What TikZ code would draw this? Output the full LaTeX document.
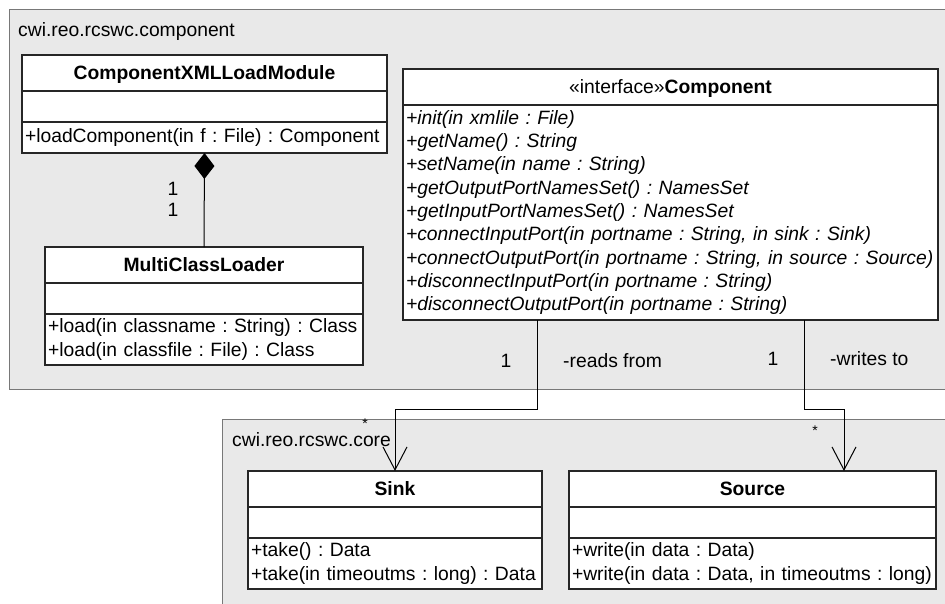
\documentclass[tikz,border=0pt]{standalone}
\usepackage{fontspec}
\setmainfont{Liberation Sans}
\usetikzlibrary{arrows.meta,positioning}

\definecolor{pkgfill}{RGB}{233,233,233}
\definecolor{pkgline}{RGB}{120,120,120}
\newcommand{\umlfont}{\fontsize{19.3}{23.3}\selectfont\frenchspacing}
\hyphenpenalty=10000
\exhyphenpenalty=10000

\tikzset{
  pkg/.style={draw=pkgline,fill=pkgfill,line width=1pt},
  pkglabel/.style={anchor=base west,inner sep=0pt,font=\umlfont},
  box/.style={draw=black!85,fill=white,line width=1.2pt,outer sep=0pt},
  head/.style={box,anchor=north,minimum width=#1,minimum height=36pt,inner sep=0pt,
    text height=13.8pt,text depth=0pt,font=\umlfont\bfseries},
  attrs/.style={box,minimum width=#1,minimum height=31pt,inner sep=0pt},
  ops/.style={box,text width=#1,align=left,inner xsep=3pt,inner ysep=0pt,font=\umlfont},
  lab/.style={anchor=base,inner sep=0pt,font=\umlfont},
  star/.style={anchor=base,inner sep=0pt,font=\fontsize{14}{16}\selectfont},
  assoc/.style={line width=1pt,-{Straight Barb[length=23pt,width=24pt]}},
  compos/.style={line width=1pt,-{Diamond[length=26pt,width=20pt]}},
}

\begin{document}
\begin{tikzpicture}[x=1pt,y=-1pt]
  \useasboundingbox (0,0) rectangle (945,603);
  \clip (0,0) rectangle (945,603);
  \fill[white] (0,0) rectangle (945,603);

  % packages
  \draw[pkg] (9,9) rectangle (960,389);
  \node[pkglabel] (pkgcomp) at (18,36) {cwi.reo.rcswc.component};
  \draw[pkg] (222,419) rectangle (960,620);
  \node[pkglabel] (pkgcore) at (232,446) {cwi.reo.rcswc.core};

  % ComponentXMLLoadModule
  \node[head=365pt] (xmlhead) at (204.5,55) {ComponentXMLLoadModule};
  \node[attrs=365pt,below=0pt of xmlhead] (xmlattr) {};
  \node[ops=359pt,minimum height=31pt,below=0pt of xmlattr] (xmlops)
    {+loadComponent(in f : File) : Component};

  % MultiClassLoader
  \node[head=318pt] (mclhead) at (204,247) {MultiClassLoader};
  \node[attrs=318pt,below=0pt of mclhead] (mclattr) {};
  \node[ops=312pt,minimum height=51pt,below=0pt of mclattr] (mclops)
    {+load(in classname : String) : Class\\+load(in classfile : File) : Class};

  % Component interface
  \node[head=535pt] (comphead) at (670.5,69) {\textmd{«interface»}Component};
  \node[ops=529pt,minimum height=215pt,below=0pt of comphead] (comp) {\itshape
    +init(in xmlile : File)\\
    +getName() : String\\
    +setName(in name : String)\\
    +getOutputPortNamesSet() : NamesSet\\
    +getInputPortNamesSet() : NamesSet\\
    +connectInputPort(in portname : String, in sink : Sink)\\
    +connectOutputPort(in portname : String, in source : Source)\\
    +disconnectInputPort(in portname : String)\\
    +disconnectOutputPort(in portname : String)};

  % Sink and Source
  \node[head=294pt] (sinkhead) at (395,471) {Sink};
  \node[attrs=294pt,below=0pt of sinkhead] (sinkattr) {};
  \node[ops=288pt,minimum height=51pt,below=0pt of sinkattr] (sinkops)
    {+take() : Data\\+take(in timeoutms : long) : Data};

  \node[head=367pt] (srchead) at (752.5,471) {Source};
  \node[attrs=367pt,below=0pt of srchead] (srcattr) {};
  \node[ops=361pt,minimum height=51pt,below=0pt of srcattr] (srcops)
    {+write(in data : Data)\\+write(in data : Data, in timeoutms : long)};

  % connectors
  \draw[compos] (mclhead.north) -- (xmlops.south);
  \draw[assoc] ([xshift=134pt]comp.south west) -- ++(0,89) -| (sinkhead.north);
  \draw[assoc] ([xshift=401pt]comp.south west) -- ++(0,89) -| ([xshift=275pt]srchead.north west);

  % multiplicities and roles
  \foreach \x/\y/\lab [count=\i] in {173/195/1, 173/216/1, 506/367/1, 773/365/1}
    \node[lab] (mult\i) at (\x,\y) {\lab};
  \node[star] (manysink) at (365,428) {*};
  \node[star] (manysrc) at (815,435) {*};
  \node[lab,anchor=base west] (reads) at (563,367) {-reads from};
  \node[lab,anchor=base west] (writes) at (830,365) {-writes to};
\end{tikzpicture}
\end{document}
